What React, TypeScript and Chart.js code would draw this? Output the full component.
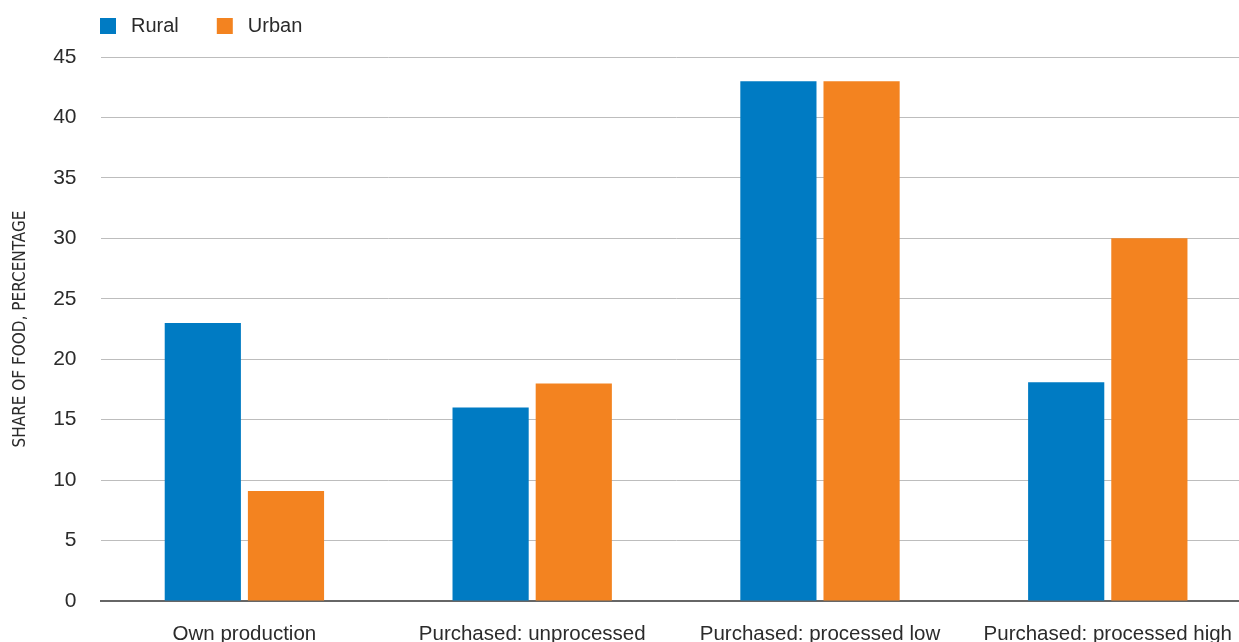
import React, { useEffect, useRef } from "react";
import { Chart, registerables } from "chart.js";

Chart.register(...registerables);

const categories = [
  "Own production",
  "Purchased: unprocessed",
  "Purchased: processed low",
  "Purchased: processed high",
];
const seriesNames = ["Rural", "Urban"];
const ruralValues = [23, 16, 43, 18.1];
const urbanValues = [9.1, 18, 43, 30];
const yMin = 0;
const yMax = 45;
const yStep = 5;
const yAxisTitle = "SHARE OF FOOD, PERCENTAGE";

const BLUE = "#007BC3";
const ORANGE = "#F38320";
const TEXT = "#2b2b2b";
const SANS = "'Liberation Sans', Arial, sans-serif";
const NARROW = "'Liberation Sans Narrow', 'DejaVu Sans Condensed', 'Liberation Sans', sans-serif";

const legendPlugin = {
  id: "customLegend",
  afterDraw(chart: any) {
    const ctx = chart.ctx;
    ctx.save();
    ctx.font = `20px ${SANS}`;
    ctx.textBaseline = "middle";
    ctx.textAlign = "left";
    let x = 100;
    const y = 18;
    chart.data.datasets.forEach((ds: any) => {
      ctx.fillStyle = ds.backgroundColor;
      ctx.fillRect(x, y, 16, 16);
      ctx.fillStyle = TEXT;
      ctx.fillText(ds.label, x + 31, y + 8.5);
      x += 31 + ctx.measureText(ds.label).width + 38;
    });
    ctx.restore();
  },
};

export default function App() {
  const ref = useRef<HTMLCanvasElement | null>(null);

  useEffect(() => {
    if (!ref.current) return;
    const chart = new Chart(ref.current, {
      type: "bar",
      data: {
        labels: categories,
        datasets: [
          {
            label: seriesNames[0],
            data: ruralValues,
            backgroundColor: BLUE,
            categoryPercentage: 0.578,
            barPercentage: 0.916,
          },
          {
            label: seriesNames[1],
            data: urbanValues,
            backgroundColor: ORANGE,
            categoryPercentage: 0.578,
            barPercentage: 0.916,
          },
        ],
      },
      options: {
        animation: false,
        responsive: false,
        maintainAspectRatio: false,
        layout: { padding: { top: 57, left: 0, right: 0, bottom: 0 } },
        plugins: {
          legend: { display: false },
          tooltip: { enabled: false },
        },
        scales: {
          x: {
            grid: { display: false, drawTicks: false },
            border: { display: true, color: "#666666", width: 2 },
            ticks: {
              color: TEXT,
              font: { family: SANS, size: 20.5 },
              padding: 21,
              maxRotation: 0,
              autoSkip: false,
            },
            afterFit: (scale: any) => {
              scale.height = 41;
            },
          },
          y: {
            min: yMin,
            max: yMax,
            grid: { color: "#bdbdbd", lineWidth: 1, drawTicks: false },
            border: { display: false },
            ticks: {
              stepSize: yStep,
              color: TEXT,
              font: { family: SANS, size: 21 },
              padding: 24,
            },
            title: {
              display: true,
              text: yAxisTitle,
              color: TEXT,
              font: { family: NARROW, size: 17 },
              padding: { top: 10, bottom: 0 },
            },
            afterFit: (scale: any) => {
              scale.width = 100.5;
            },
          },
        },
      },
      plugins: [legendPlugin],
    });
    return () => chart.destroy();
  }, []);

  return (
    <div
      style={{
        position: "fixed",
        left: 0,
        top: 0,
        width: 1239,
        height: 642,
        overflow: "hidden",
        background: "#ffffff",
      }}
    >
      <canvas ref={ref} width={1253} height={642} style={{ width: 1253, height: 642, display: "block" }} />
    </div>
  );
}
